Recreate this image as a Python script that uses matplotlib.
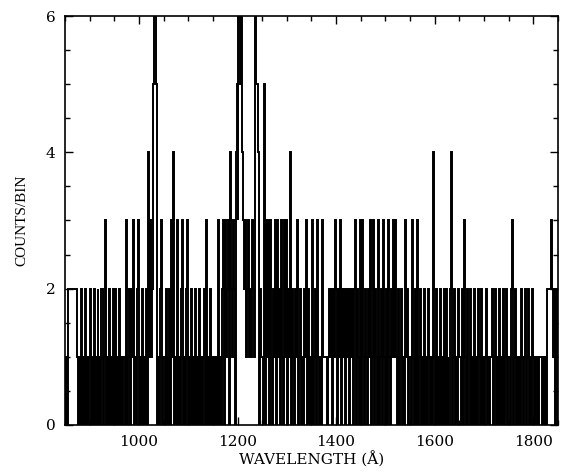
import numpy as np
import matplotlib.pyplot as plt
from matplotlib.ticker import MultipleLocator

## counts per 2 A bin, one string per 100 A (groups of 10 bins = 20 A)

wave_start = 850.0
wave_stop = 1850.0

chunk_850 = "0102222222 2210102010 2010120102 0102010220 1301020102"
chunk_950 = "0201020101 1030120213 0102301020 1020413125 6650102301"
chunk_1050 = "1020102031 4010301023 0102301020 1020102010 1203010201"
chunk_1150 = "0101030102 3031230421 3204536656 4323123121 3216554021"
chunk_1250 = "1050313031 0213031203 1031302140 2102130120 1021301201"
chunk_1350 = "0301203101 0311110121 2021320213 0212021202 1202302103"
chunk_1450 = "0310210213 0130210230 1203102031 0213131020 1201031201"
chunk_1550 = "1031020301 2010201021 0104102010 2010202010 0240120102"
chunk_1650 = "1102031020 0201020102 1020101201 0112012010 2010201201"
chunk_1750 = "1023012010 0102101201 2010210101 0111010102 2223212021"

chunks = [chunk_850, chunk_950, chunk_1050, chunk_1150, chunk_1250,
          chunk_1350, chunk_1450, chunk_1550, chunk_1650, chunk_1750]

counts = np.array([int(c) for c in "".join(chunks).replace(" ", "")])
edges = np.linspace(wave_start, wave_stop, len(counts) + 1)

## plotting

fig = plt.figure(figsize=(5.67, 4.75), dpi=100)
ax = fig.add_axes([0.1146, 0.1053, 0.8694, 0.8610])

ax.stairs(counts, edges, color='black', linewidth=1.4, baseline=0)

ax.set_xlim(wave_start, wave_stop)
ax.set_ylim(0, 6)

ax.xaxis.set_major_locator(MultipleLocator(200))
ax.xaxis.set_minor_locator(MultipleLocator(50))
ax.yaxis.set_major_locator(MultipleLocator(2))
ax.yaxis.set_minor_locator(MultipleLocator(0.5))
ax.tick_params(which='both', direction='in', top=True, right=True, width=1.0)
ax.tick_params(which='major', length=6, labelsize=11, pad=7)
ax.tick_params(which='minor', length=3.5)
for lab in ax.get_xticklabels() + ax.get_yticklabels():
    lab.set_family('DejaVu Serif')

for sp in ax.spines.values():
    sp.set_linewidth(1.2)

ax.set_xlabel("WAVELENGTH (Å)", family='DejaVu Serif', fontsize=11, labelpad=2)
ax.set_ylabel("COUNTS/BIN", family='Liberation Serif', fontsize=11, labelpad=12)

plt.savefig("out.png", dpi=100)
